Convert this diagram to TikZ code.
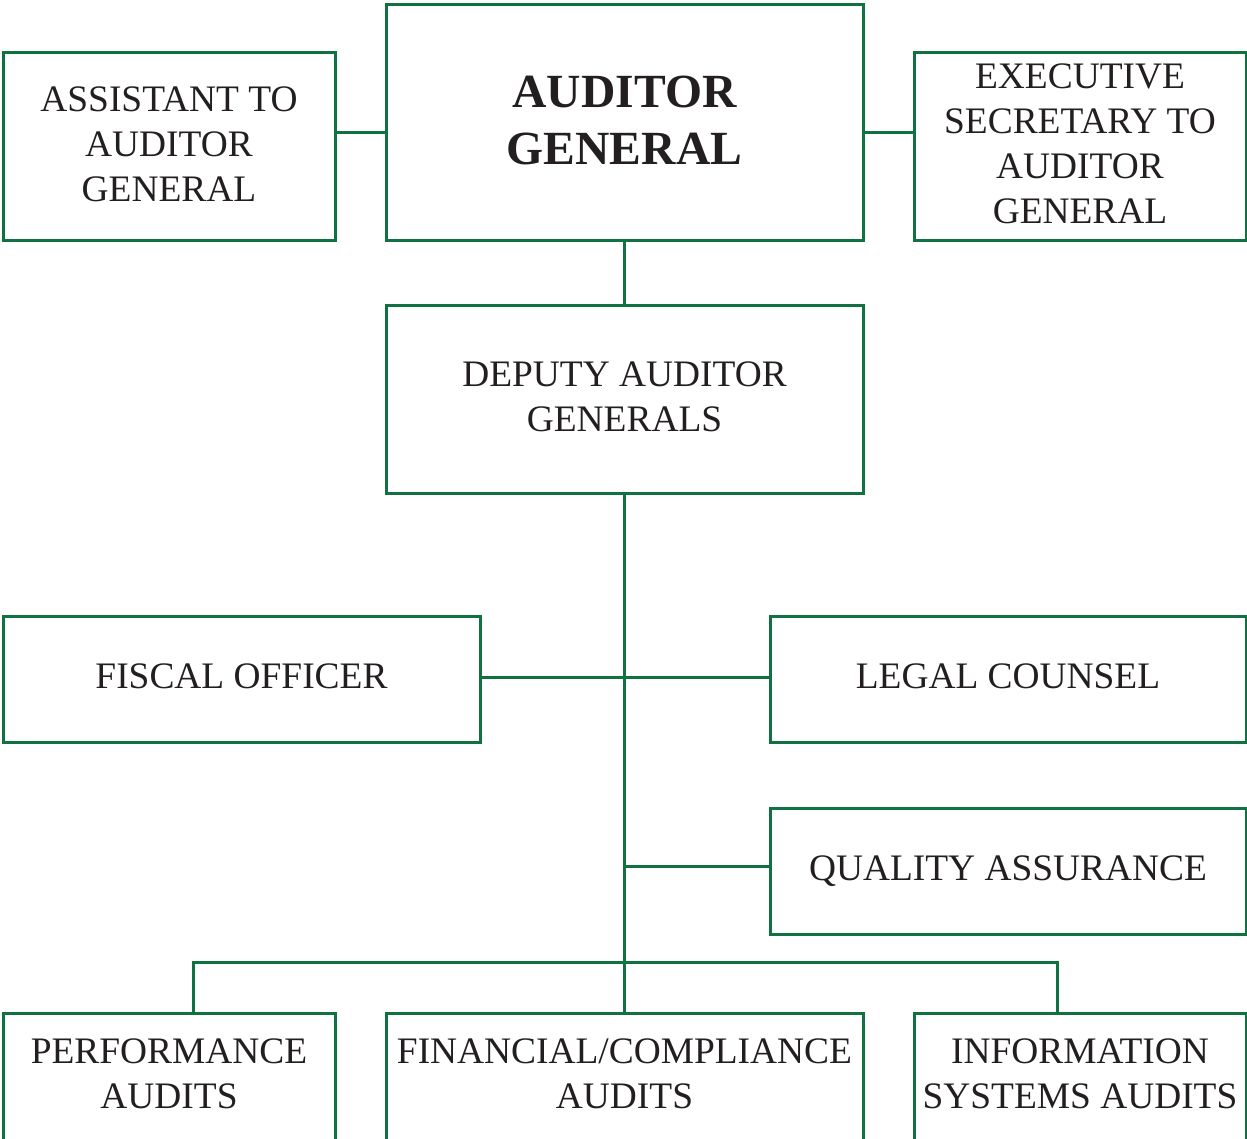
\documentclass[tikz,border=0pt]{standalone}
\usepackage{fontspec}
\setmainfont{Liberation Serif}
\definecolor{orggreen}{RGB}{16,114,64}
\definecolor{inkgray}{RGB}{35,31,32}
\begin{document}
\begin{tikzpicture}[x=1pt,y=-1pt,
  box/.style={draw=orggreen, line width=3pt, rectangle, inner sep=0pt,
    align=center, text=inkgray, text depth=6pt,
    font=\fontsize{37.4}{45}\selectfont},
  title/.style={box, font=\fontsize{47.6}{57}\selectfont\bfseries},
  link/.style={draw=orggreen, line width=3pt}]
\useasboundingbox (0,0) rectangle (1247,1139);
\fill[white] (0,0) rectangle (1247,1139);

% top row
\node[box, minimum width=332pt, minimum height=188pt] (asst) at (169,147)
  {ASSISTANT TO\\AUDITOR\\GENERAL};
\node[title, minimum width=477pt, minimum height=236pt] (ag) at (624.5,123)
  {AUDITOR\\GENERAL};
\node[box, minimum width=332pt, minimum height=188pt] (exec) at (1080,147)
  {EXECUTIVE\\SECRETARY TO\\AUDITOR\\GENERAL};

% deputies
\node[box, minimum width=477pt, minimum height=187pt] (dep) at (624.5,399.5)
  {DEPUTY AUDITOR\\GENERALS};

% staff offices
\node[box, minimum width=477pt, minimum height=126pt] (fisc) at (241.5,679)
  {FISCAL OFFICER};
\node[box, minimum width=476pt, minimum height=126pt] (legal) at (1008,679)
  {LEGAL COUNSEL};
\node[box, minimum width=476pt, minimum height=126pt] (qa) at (1008,871)
  {QUALITY ASSURANCE};

% audit divisions
\node[box, minimum width=332pt, minimum height=127pt] (perf) at (169,1076.5)
  {PERFORMANCE\\AUDITS};
\node[box, minimum width=477pt, minimum height=127pt] (fin) at (624.5,1076.5)
  {FINANCIAL/COMPLIANCE\\AUDITS};
\node[box, minimum width=332pt, minimum height=127pt] (info) at (1080,1076.5)
  {INFORMATION\\SYSTEMS AUDITS};

% connectors
\draw[link] ([yshift=14pt]asst.east) -- ([yshift=14pt]asst.east -| ag.west);
\draw[link] ([yshift=14pt]exec.west) -- ([yshift=14pt]exec.west -| ag.east);
\draw[link] (ag.south) -- (dep.north);
\draw[link] (dep.south) -- (fin.north);
\draw[link] ([yshift=2pt]fisc.east) -- ([yshift=2pt]legal.west);
\draw[link] ([yshift=5pt]qa.west) -- ([yshift=5pt]qa.west -| dep.south);
\coordinate (bus) at (0,962);
\draw[link] ([xshift=24pt]perf.north) -- ([xshift=24pt]perf.north |- bus)
  -- ([xshift=-23pt]info.north |- bus) -- ([xshift=-23pt]info.north);
\end{tikzpicture}
\end{document}
